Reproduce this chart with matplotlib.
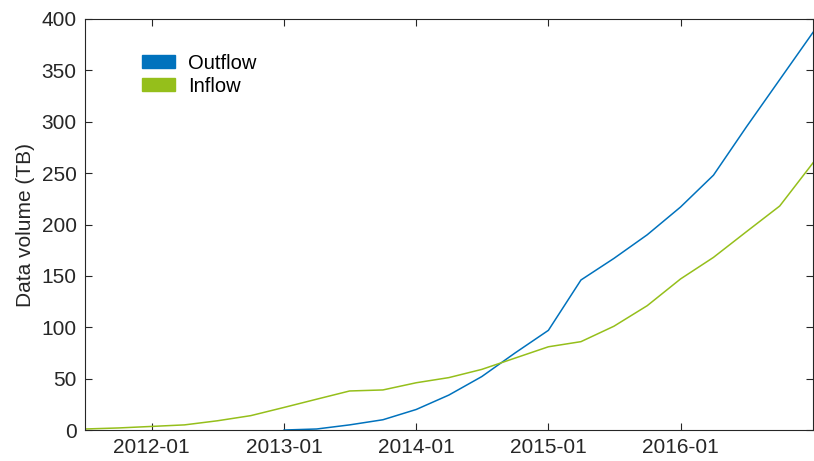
"""
Outflow / inflow data volume over time.
"""
import numpy as np
import pandas as pd
import matplotlib
matplotlib.use('Agg')
import matplotlib.pyplot as plt
import matplotlib.dates as mdates
from matplotlib.patches import Patch

plt.rcParams['font.family'] = ['Liberation Sans', 'DejaVu Sans']

# quarterly samples
inflow_dates = pd.date_range('2011-07-01', '2017-01-01', freq='QS')
inflow = [1, 2, 3.5, 5, 9, 14, 22, 30, 38, 39, 46, 51, 59, 70, 81, 86,
          101, 121, 147, 168, 193, 218, 260]

outflow_dates = pd.date_range('2013-01-01', '2017-01-01', freq='QS')
outflow = [0, 1, 5, 10, 20, 34, 52, 75, 97, 146, 167, 190, 217, 248,
           295, 341, 387]

year_ticks = pd.date_range('2012-01-01', '2016-01-01', freq='YS')

blue = '#0072BD'
green = '#95BF1B'

fig = plt.figure(figsize=(8.14, 4.61), dpi=100)
ax = fig.add_axes([0.1044, 0.0672, 0.8944, 0.8916])

ax.plot(outflow_dates, outflow, color=blue, lw=1.1)
ax.plot(inflow_dates, inflow, color=green, lw=1.1)

ax.set_xlim(pd.Timestamp('2011-07-01'), pd.Timestamp('2017-01-01'))
ax.set_ylim(0, 400)
ax.set_yticks(np.arange(0, 401, 50))
ax.set_xticks(year_ticks)
ax.xaxis.set_major_formatter(mdates.DateFormatter('%Y-%m'))

ax.set_ylabel('Data volume (TB)', fontsize=15, color='#262626', labelpad=5)
ax.tick_params(direction='in', length=5, width=0.8, top=True, right=True,
               labelsize=15, colors='#262626', pad=6)
for s in ax.spines.values():
    s.set_color('#262626')
    s.set_linewidth(0.8)

handles = [Patch(color=blue, label='Outflow'), Patch(color=green, label='Inflow')]
ax.legend(handles=handles, loc='upper left', bbox_to_anchor=(0.078, 0.915),
          frameon=False, fontsize=14.5, handlelength=1.65, handleheight=0.6,
          handletextpad=0.65, labelspacing=0.2, borderpad=0, borderaxespad=0)

fig.savefig('out.png', dpi=100)
